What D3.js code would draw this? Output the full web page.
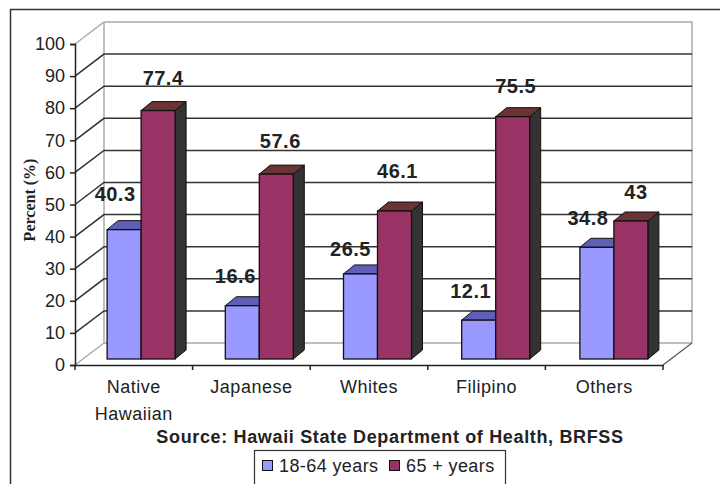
<!DOCTYPE html>
<html>
<head>
<meta charset="utf-8">
<script src="https://cdn.jsdelivr.net/npm/d3@7"></script>
<style>
  body { margin: 0; background: #fff; }
  text { font-family: Arial, "Liberation Sans", sans-serif; fill: #222; }
</style>
</head>
<body>
<div id="chart"></div>
<script>
const categories = ["Native Hawaiian", "Japanese", "Whites", "Filipino", "Others"];
const categoryLines = [["Native", "Hawaiian"], ["Japanese"], ["Whites"], ["Filipino"], ["Others"]];
const seriesNames = ["18-64 years", "65 + years"];
const youngValues = [40.3, 16.6, 26.5, 12.1, 34.8];
const oldValues = [77.4, 57.6, 46.1, 75.5, 43];
const yTicks = [0, 10, 20, 30, 40, 50, 60, 70, 80, 90, 100];

const frontColors = ["#9999ff", "#993366"];
const topColors = ["#5f5fb8", "#6b3333"];
const sideColor = "#333333";

const svg = d3.select("#chart").append("svg")
    .attr("width", 720)
    .attr("height", 484);

// outer frame, no right side in the picture
svg.append("path")
    .attr("d", "M10.5,484V9.5H720")
    .attr("fill", "none")
    .attr("stroke", "#333")
    .attr("stroke-width", 1.5);

// scales
const yScale = d3.scaleLinear().domain([0, 100]).range([365, 44]);
const xAxisScale = d3.scaleBand().domain(categories).range([75, 663]);
const barBand = d3.scaleBand().domain(categories).range([82, 673]);
const barScale = d3.scaleBand().domain([0, 1]).range([0, 68]);

// depth of the fake 3d box
const wallDx = 29, wallDy = -22;
const barBaseDy = -6;
const barDx = 11, barDy = -9;

const grid = svg.append("g");

// back wall and floor
grid.append("path")
    .attr("d", `M${75},${yScale(100)}L${75 + wallDx},${yScale(100) + wallDy}H${663 + wallDx}V${yScale(0) + wallDy}`)
    .attr("fill", "none").attr("stroke", "#aaa").attr("stroke-width", 1.5);
grid.append("path")
    .attr("d", `M${75},${yScale(0)}L${75 + wallDx},${yScale(0) + wallDy}V${yScale(100) + wallDy}M${75 + wallDx},${yScale(0) + wallDy}H${663 + wallDx}`)
    .attr("fill", "none").attr("stroke", "#aaa").attr("stroke-width", 1.5);
grid.append("path")
    .attr("d", `M${663},${yScale(0)}l${wallDx},${wallDy}`)
    .attr("fill", "none").attr("stroke", "#555").attr("stroke-width", 1.2);

// gridlines
yTicks.filter(d => d > 0 && d < 100).forEach(d => {
    grid.append("path")
        .attr("d", `M${75},${yScale(d)}L${75 + wallDx},${yScale(d) + wallDy}H${663 + wallDx}`)
        .attr("fill", "none").attr("stroke", "#333").attr("stroke-width", 1.5);
});

// axes
const yAxis = d3.axisLeft(yScale).tickValues(yTicks).tickSize(5).tickPadding(5);
const yAxisGroup = svg.append("g")
    .attr("transform", "translate(75,0)")
    .call(yAxis);
yAxisGroup.selectAll("text").style("font-size", "18px");
yAxisGroup.selectAll("line, path").attr("stroke", "#222").attr("stroke-width", 1.5);

const xAxis = d3.axisBottom(xAxisScale).tickValues([]).tickSizeOuter(0);
const xAxisGroup = svg.append("g")
    .attr("transform", `translate(0,${yScale(0)})`)
    .call(xAxis);
xAxisGroup.select("path").attr("stroke", "#222").attr("stroke-width", 1.5);

// tick marks between categories
const tickEdges = categories.map(d => xAxisScale(d)).concat([663]);
xAxisGroup.selectAll(".edge").data(tickEdges).enter().append("line")
    .attr("class", "edge")
    .attr("x1", d => d).attr("x2", d => d)
    .attr("y1", 0).attr("y2", 5)
    .attr("stroke", "#222").attr("stroke-width", 1.5);

// category labels
const catLabels = svg.append("g").selectAll("text").data(categories).enter().append("text")
    .attr("x", d => xAxisScale(d) + xAxisScale.bandwidth() / 2)
    .attr("y", 393)
    .attr("text-anchor", "middle")
    .style("font-size", "18px")
    .style("letter-spacing", "0.5px");
catLabels.selectAll("tspan").data((d, i) => categoryLines[i]).enter().append("tspan")
    .attr("x", function () { return d3.select(this.parentNode).attr("x"); })
    .attr("dy", (d, i) => i === 0 ? 0 : 27)
    .text(d => d);

// bars, drawn series by series so the red one covers the blue side
const series = [youngValues, oldValues];
const barY = v => yScale(v) + barBaseDy;
const base = yScale(0) + barBaseDy;

series.forEach((values, s) => {
    const g = svg.append("g");
    categories.forEach((c, i) => {
        const x0 = barBand(c) + (barBand.bandwidth() - 68) / 2 + barScale(s);
        const w = barScale.bandwidth();
        const top = barY(values[i]);
        g.append("path")
            .attr("d", `M${x0 + w},${top}l${barDx},${barDy}V${base + barDy}l${-barDx},${-barDy}Z`)
            .attr("fill", sideColor).attr("stroke", "#111");
        g.append("path")
            .attr("d", `M${x0},${top}l${barDx},${barDy}h${w}l${-barDx},${-barDy}Z`)
            .attr("fill", topColors[s]).attr("stroke", "#111");
        g.append("rect")
            .attr("x", x0).attr("y", top)
            .attr("width", w).attr("height", base - top)
            .attr("fill", frontColors[s]).attr("stroke", "#111").attr("stroke-width", 1.3);
    });
});

// value labels, placed by hand in the original so they sit off the bars
const youngLabelDx = [-9, -7, -10, -8, -9];
const youngLabelDy = [-29, -23, -18, -22, -22];
const oldLabelDx = [5, 4, 3, 3, 5];
const oldLabelDy = [-26, -26, -33, -24, -22];

function valueLabels(values, s, dxs, dys) {
    svg.append("g").selectAll("text").data(values).enter().append("text")
        .attr("x", (d, i) => barBand(categories[i]) + (barBand.bandwidth() - 68) / 2 + barScale(s) + 17 + dxs[i])
        .attr("y", (d, i) => barY(d) + dys[i])
        .attr("text-anchor", "middle")
        .style("font-size", "20px")
        .style("font-weight", "bold")
        .style("letter-spacing", "0.5px")
        .text(d => d);
}
valueLabels(youngValues, 0, youngLabelDx, youngLabelDy);
valueLabels(oldValues, 1, oldLabelDx, oldLabelDy);

// y title
svg.append("text")
    .attr("transform", "translate(35,200) rotate(-90)")
    .attr("text-anchor", "middle")
    .style("font-family", "'Liberation Serif', 'Times New Roman', serif")
    .style("font-size", "16px")
    .style("font-weight", "bold")
    .text("Percent (%)");

// source line
svg.append("text")
    .attr("x", 390)
    .attr("y", 443)
    .attr("text-anchor", "middle")
    .style("font-size", "18px")
    .style("font-weight", "bold")
    .style("letter-spacing", "0.65px")
    .text("Source: Hawaii State Department of Health, BRFSS");

// legend
const legend = svg.append("g");
legend.append("rect")
    .attr("x", 254.5).attr("y", 450.5)
    .attr("width", 251).attr("height", 40)
    .attr("fill", "#fff").attr("stroke", "#333").attr("stroke-width", 1.2);
const legendX = d3.scalePoint().domain(seriesNames).range([262, 389]);
seriesNames.forEach((name, i) => {
    legend.append("rect")
        .attr("x", legendX(name) + 0.5).attr("y", 460.5)
        .attr("width", 10).attr("height", 10)
        .attr("fill", frontColors[i]).attr("stroke", "#111");
    legend.append("text")
        .attr("x", legendX(name) + 17).attr("y", 472)
        .style("font-size", "18px")
        .style("letter-spacing", "0.4px")
        .text(name);
});
</script>
</body>
</html>
